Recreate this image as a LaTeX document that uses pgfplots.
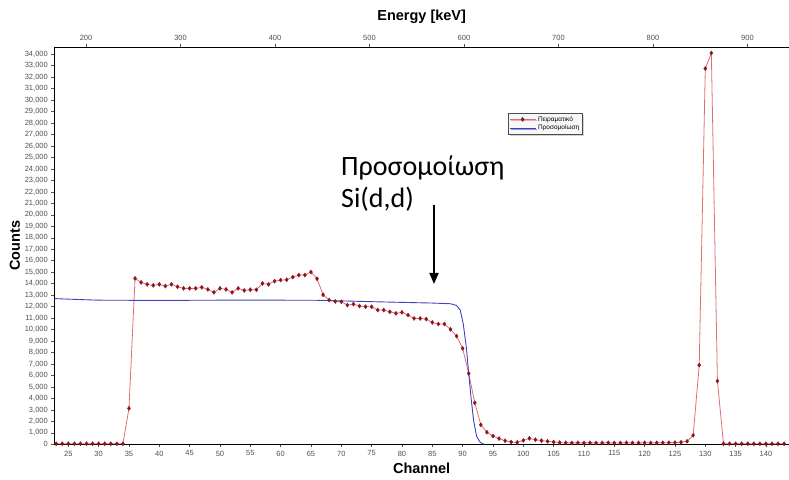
\documentclass[border=0pt]{standalone}
\usepackage{pgfplots}
\pgfplotsset{compat=1.18}
\usepackage{pgfplotstable}
\usepackage{fontspec}
\setmainfont{Liberation Sans}
\newfontfamily\carlito{Carlito}
\usetikzlibrary{shadows,arrows.meta}

\definecolor{expline}{RGB}{222,110,110}
\definecolor{expmark}{RGB}{140,20,30}
\definecolor{simline}{RGB}{65,65,195}
\definecolor{ticklab}{RGB}{80,80,80}

% measured spectrum (channel, counts)
\pgfplotstableread{
ch counts
23 50
24 50
25 50
26 50
27 50
28 50
29 50
30 50
31 50
32 50
33 50
34 50
35 3130
36 14460
37 14110
38 13940
39 13850
40 13940
41 13790
42 13940
43 13730
44 13590
45 13590
46 13590
47 13680
48 13500
49 13240
50 13590
51 13500
52 13240
53 13590
54 13410
55 13470
56 13470
57 14020
58 13940
59 14220
60 14310
61 14340
62 14570
63 14750
64 14750
65 15010
66 14430
67 13030
68 12570
69 12450
70 12420
71 12130
72 12220
73 12050
74 11990
75 11990
76 11700
77 11700
78 11550
79 11410
80 11500
81 11260
82 10970
83 10970
84 10910
85 10620
86 10480
87 10480
88 10020
89 9430
90 8360
91 6180
92 3620
93 1700
94 1050
95 720
96 500
97 310
98 200
99 170
100 340
101 520
102 400
103 320
104 260
105 200
106 150
107 130
108 120
109 130
110 120
111 130
112 120
113 120
114 130
115 120
116 120
117 130
118 120
119 120
120 130
121 120
122 130
123 130
124 140
125 150
126 180
127 260
128 780
129 6900
130 32750
131 34100
132 5510
133 50
134 50
135 50
136 50
137 50
138 50
139 50
140 50
141 50
142 50
143 50
}\exptable

\begin{document}
\begin{tikzpicture}[x=1pt,y=1pt]
\useasboundingbox (0,0) rectangle (789,479);

\begin{axis}[
  at={(54.3pt,34.7pt)}, anchor=south west,
  scale only axis, width=734.7pt, height=397pt,
  xmin=22.69, xmax=143.8, ymin=0, ymax=34600,
  axis x line*=bottom, axis y line*=left,
  axis line style={-, line width=1.6pt},
  xtick={25,30,...,140}, ytick={0,1000,...,34000},
  tick align=outside, major tick length=3pt,
  tick style={ticklab, line width=0.5pt},
  ticklabel style={font=\fontsize{7.5}{8}\selectfont, text=ticklab},
  /pgf/number format/assume math mode=true,
  /pgf/number format/1000 sep={,},
  scaled y ticks=false,
  xlabel={Channel}, ylabel={Counts},
  label style={font=\fontsize{14.5}{16}\selectfont\bfseries},
  xlabel style={at={(axis description cs:0.5,-0.0597)}, anchor=center},
  ylabel style={at={(axis description cs:-0.0535,0.5)}, anchor=center},
  legend cell align=left,
  legend style={at={(0.6175,0.8345)}, anchor=north west,
    font=\fontsize{6.5}{7}\selectfont, fill=gray!6, draw=black!70,
    inner sep=1pt, row sep=-1.5pt,
    drop shadow={shadow xshift=1.5pt, shadow yshift=-1.5pt, fill=gray!70}},
  legend image code/.code={\draw[#1,mark repeat=2,mark phase=2] plot coordinates {(0pt,0pt)(13pt,0pt)(26pt,0pt)};},
]
\addplot[expline, line width=0.8pt, mark=diamond*, mark size=2.1pt,
  mark options={draw=expmark, fill=expmark, line width=0.3pt}]
  table[x=ch, y=counts]{\exptable};
\addlegendentry{Πειραματικό}
\addplot[simline, line width=0.9pt, no marks] coordinates {
  (22.7,12700) (25,12650) (30,12560) (40,12540) (50,12560) (60,12560)
  (66,12550) (70,12500) (75,12430) (80,12370) (85,12310) (88,12250)
  (89,12100) (89.6,11700) (90.1,10500) (90.6,8500) (91,6200) (91.4,4000)
  (91.8,2100) (92.3,700) (92.9,170) (93.5,0)};
\addlegendentry{Προσομοίωση}
\end{axis}

\begin{axis}[
  at={(54.3pt,34.7pt)}, anchor=south west,
  scale only axis, width=734.7pt, height=397pt,
  xmin=166.4, xmax=944, ymin=0, ymax=1,
  axis x line*=top, axis y line=none,
  axis line style={-, line width=1.2pt},
  xtick={200,300,...,900},
  tick align=outside, major tick length=3pt,
  tick style={ticklab, line width=0.5pt},
  ticklabel style={font=\fontsize{7.5}{8}\selectfont, text=ticklab},
  /pgf/number format/assume math mode=true,
  xlabel={Energy [keV]},
  label style={font=\fontsize{14.5}{16}\selectfont\bfseries},
  xlabel style={at={(axis description cs:0.5,1.076)}, anchor=center},
]
\addplot[draw=none, forget plot] coordinates {(200,0.5)};
\end{axis}

\node[anchor=base west, inner sep=0, font=\carlito\fontsize{28}{30}\selectfont] at (341,303) {Προσομοίωση};
\node[anchor=base west, inner sep=0, font=\carlito\fontsize{28}{30}\selectfont] at (341,271) {Si(d,d)};
\draw[line width=2pt, -{Triangle[width=9pt,length=11pt]}] (434,274) -- (434,195);
\end{tikzpicture}
\end{document}
